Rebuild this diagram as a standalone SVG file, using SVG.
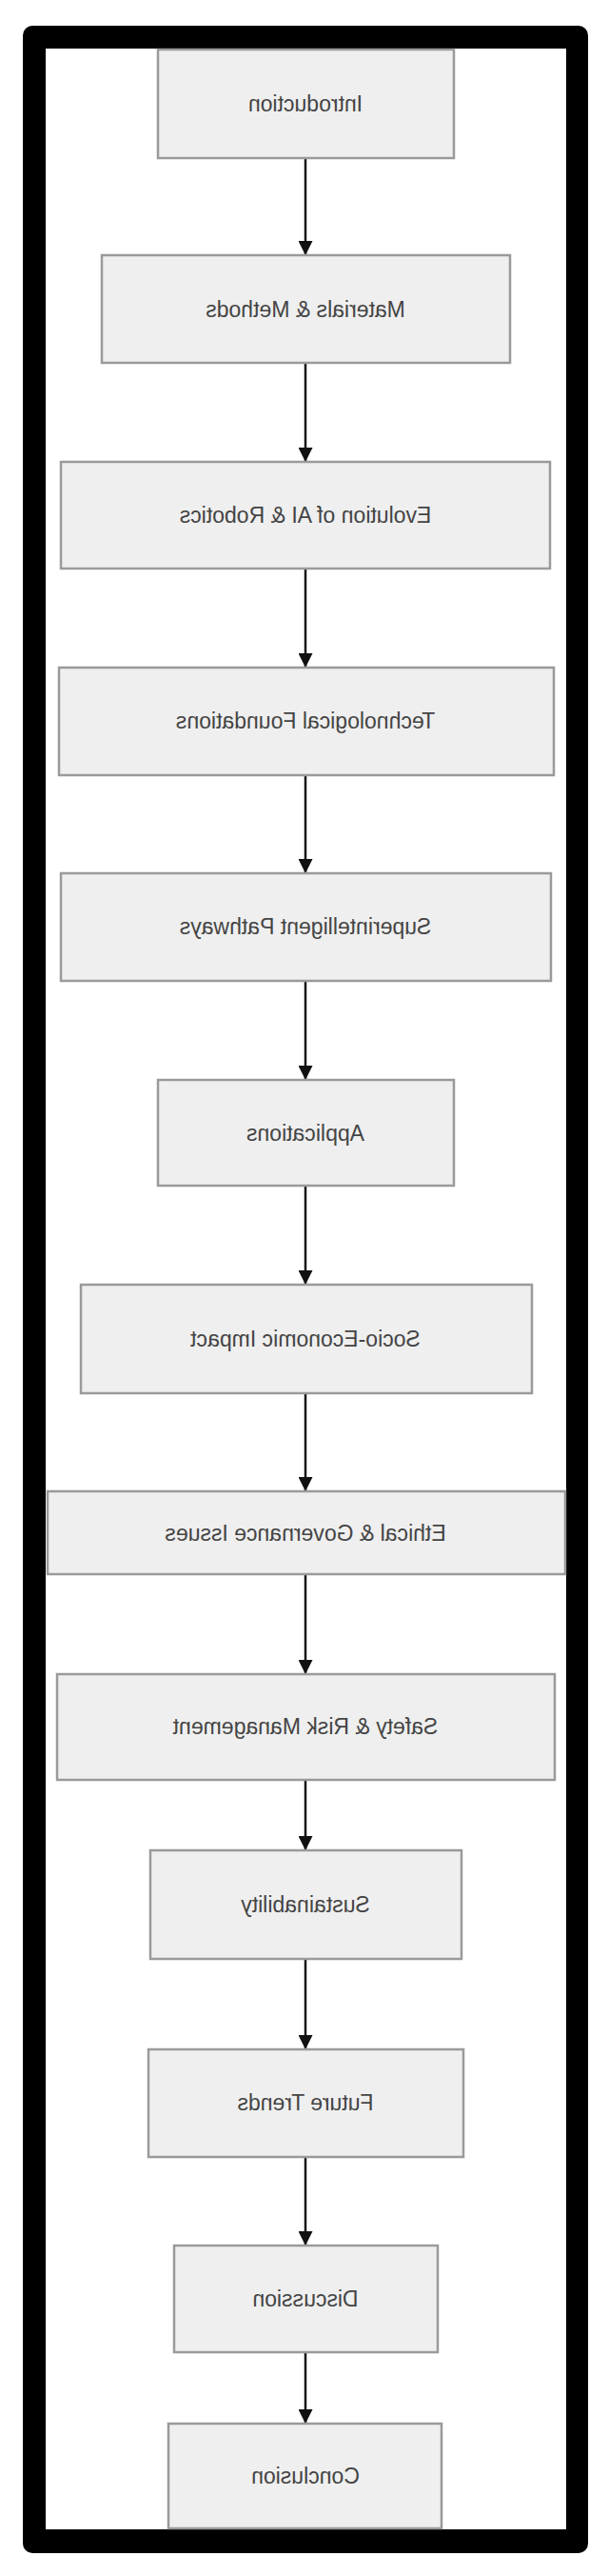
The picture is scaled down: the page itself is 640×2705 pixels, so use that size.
<svg xmlns="http://www.w3.org/2000/svg" width="640" height="2705" viewBox="0 0 640 2705">
<defs>
<style>
.box{fill:#efefef;stroke:#9a9a9a;stroke-width:2.5}
.lbl{font-family:"Liberation Sans",Arial,sans-serif;font-size:23px;fill:#444;text-anchor:middle;dominant-baseline:central}
.con{stroke:#111;stroke-width:2.5;fill:none;marker-end:url(#ah)}
</style>
<marker id="ah" viewBox="0 0 10 10" refX="10" refY="5" markerWidth="6" markerHeight="6" orient="auto" markerUnits="strokeWidth"><path d="M0,0 L10,5 L0,10 Z" fill="#111"/></marker>
</defs>
<rect x="24" y="27" width="594" height="2654" rx="10" fill="#000"/>
<rect x="48" y="51" width="547" height="2605" fill="#fff"/>
<g id="connectors">
<line class="con" x1="321" y1="166" x2="321" y2="268"/>
<line class="con" x1="321" y1="381" x2="321" y2="485"/>
<line class="con" x1="321" y1="597" x2="321" y2="701"/>
<line class="con" x1="321" y1="814" x2="321" y2="917"/>
<line class="con" x1="321" y1="1030" x2="321" y2="1134"/>
<line class="con" x1="321" y1="1245" x2="321" y2="1349"/>
<line class="con" x1="321" y1="1463" x2="321" y2="1566"/>
<line class="con" x1="321" y1="1653" x2="321" y2="1758"/>
<line class="con" x1="321" y1="1869" x2="321" y2="1943"/>
<line class="con" x1="321" y1="2057" x2="321" y2="2152"/>
<line class="con" x1="321" y1="2265" x2="321" y2="2358"/>
<line class="con" x1="321" y1="2470" x2="321" y2="2545"/>
</g>
<g id="n1"><rect class="box" x="166" y="52" width="311" height="114"/><text class="lbl" transform="translate(642,0) scale(-1,1)" x="321" y="109">Introduction</text></g>
<g id="n2"><rect class="box" x="107" y="268" width="429" height="113"/><text class="lbl" transform="translate(642,0) scale(-1,1)" x="321" y="325">Materials &amp; Methods</text></g>
<g id="n3"><rect class="box" x="64" y="485" width="514" height="112"/><text class="lbl" transform="translate(642,0) scale(-1,1)" x="321" y="541">Evolution of AI &amp; Robotics</text></g>
<g id="n4"><rect class="box" x="62" y="701" width="520" height="113"/><text class="lbl" transform="translate(642,0) scale(-1,1)" x="321" y="757">Technological Foundations</text></g>
<g id="n5"><rect class="box" x="64" y="917" width="515" height="113"/><text class="lbl" transform="translate(642,0) scale(-1,1)" x="321" y="973">Superintelligent Pathways</text></g>
<g id="n6"><rect class="box" x="166" y="1134" width="311" height="111"/><text class="lbl" transform="translate(642,0) scale(-1,1)" x="321" y="1190">Applications</text></g>
<g id="n7"><rect class="box" x="85" y="1349" width="474" height="114"/><text class="lbl" transform="translate(642,0) scale(-1,1)" x="321" y="1406">Socio-Economic Impact</text></g>
<g id="n8"><rect class="box" x="50" y="1566" width="544" height="87"/><text class="lbl" transform="translate(642,0) scale(-1,1)" x="321" y="1610">Ethical &amp; Governance Issues</text></g>
<g id="n9"><rect class="box" x="60" y="1758" width="523" height="111"/><text class="lbl" transform="translate(642,0) scale(-1,1)" x="321" y="1813">Safety &amp; Risk Management</text></g>
<g id="n10"><rect class="box" x="158" y="1943" width="327" height="114"/><text class="lbl" transform="translate(642,0) scale(-1,1)" x="321" y="2000">Sustainability</text></g>
<g id="n11"><rect class="box" x="156" y="2152" width="331" height="113"/><text class="lbl" transform="translate(642,0) scale(-1,1)" x="321" y="2208">Future Trends</text></g>
<g id="n12"><rect class="box" x="183" y="2358" width="277" height="112"/><text class="lbl" transform="translate(642,0) scale(-1,1)" x="321" y="2414">Discussion</text></g>
<g id="n13"><rect class="box" x="177" y="2545" width="287" height="110"/><text class="lbl" transform="translate(642,0) scale(-1,1)" x="321" y="2600">Conclusion</text></g>
</svg>
